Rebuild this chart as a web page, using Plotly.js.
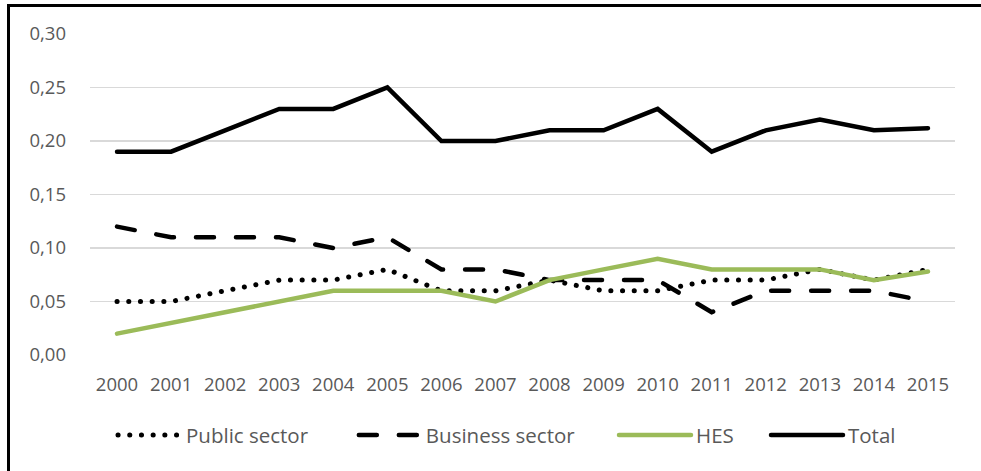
<!DOCTYPE html>
<html>
<head>
<meta charset="utf-8">
<script src="https://cdn.plot.ly/plotly-3.0.1.min.js"></script>
<style>
html,body{margin:0;padding:0;background:#fff;}
#wrap{position:relative;width:981px;height:471px;overflow:hidden;}
#chart{position:absolute;left:0;top:0;width:981px;height:471px;}
#btop{position:absolute;left:7px;top:4px;width:980px;height:3px;background:#000;}
#bleft{position:absolute;left:7px;top:4px;width:3px;height:480px;background:#000;}
path.js-line{stroke-linecap:round;}
</style>
</head>
<body>
<div id="wrap">
<div id="chart"></div>
<div id="btop"></div>
<div id="bleft"></div>
</div>
<script>
const years = ['2000','2001','2002','2003','2004','2005','2006','2007','2008','2009','2010','2011','2012','2013','2014','2015'];
const publicSector = [0.05,0.05,0.06,0.07,0.07,0.08,0.06,0.06,0.07,0.06,0.06,0.07,0.07,0.08,0.07,0.08];
const businessSector = [0.12,0.11,0.11,0.11,0.10,0.11,0.08,0.08,0.07,0.07,0.07,0.04,0.06,0.06,0.06,0.05];
const hes = [0.02,0.03,0.04,0.05,0.06,0.06,0.06,0.05,0.07,0.08,0.09,0.08,0.08,0.08,0.07,0.078];
const total = [0.19,0.19,0.21,0.23,0.23,0.25,0.20,0.20,0.21,0.21,0.23,0.19,0.21,0.22,0.21,0.212];
const yTicks = [0,0.05,0.10,0.15,0.20,0.25,0.30];

const traces = [
  {x: years, y: publicSector, name: 'Public sector', type: 'scatter', mode: 'lines', legend: 'legend',
   line: {color: '#000', width: 5, dash: '0.1px,11.6px'}},
  {x: years, y: businessSector, name: 'Business sector', type: 'scatter', mode: 'lines', legend: 'legend2',
   line: {color: '#000', width: 4.5, dash: '18px,22px'}},
  {x: years, y: hes, name: 'HES', type: 'scatter', mode: 'lines', legend: 'legend3',
   line: {color: '#9bbb59', width: 4.5}},
  {x: years, y: total, name: 'Total', type: 'scatter', mode: 'lines', legend: 'legend4',
   line: {color: '#000', width: 4.5}}
];

function leg(x, w) {
  return {orientation: 'h', x: x, xanchor: 'left', y: -0.25, yanchor: 'middle',
          itemwidth: w, font: {size: 20.5, color: '#595959'}, bgcolor: 'rgba(0,0,0,0)'};
}

const layout = {
  width: 981, height: 471,
  margin: {l: 90, r: 26, t: 34, b: 116},
  paper_bgcolor: '#fff', plot_bgcolor: '#fff',
  separators: ',.',
  font: {family: 'Open Sans, sans-serif', size: 18.5, color: '#595959'},
  showlegend: true,
  legend: leg(0.0266, 63),
  legend2: leg(0.305, 62),
  legend3: leg(0.6058, 72),
  legend4: leg(0.7815, 72),
  xaxis: {type: 'category', range: [-0.5, 15.5], showgrid: false, zeroline: false,
          showline: false, ticks: '', ticklabelstandoff: 16, fixedrange: true},
  yaxis: {range: [0, 0.30], tickvals: yTicks, tickformat: '.2f', showgrid: true,
          gridcolor: '#d9d9d9', gridwidth: 1.5, zeroline: false, showline: false,
          ticks: '', ticklabelstandoff: 23, fixedrange: true}
};

Plotly.newPlot('chart', traces, layout, {displayModeBar: false, staticPlot: true});
</script>
</body>
</html>
